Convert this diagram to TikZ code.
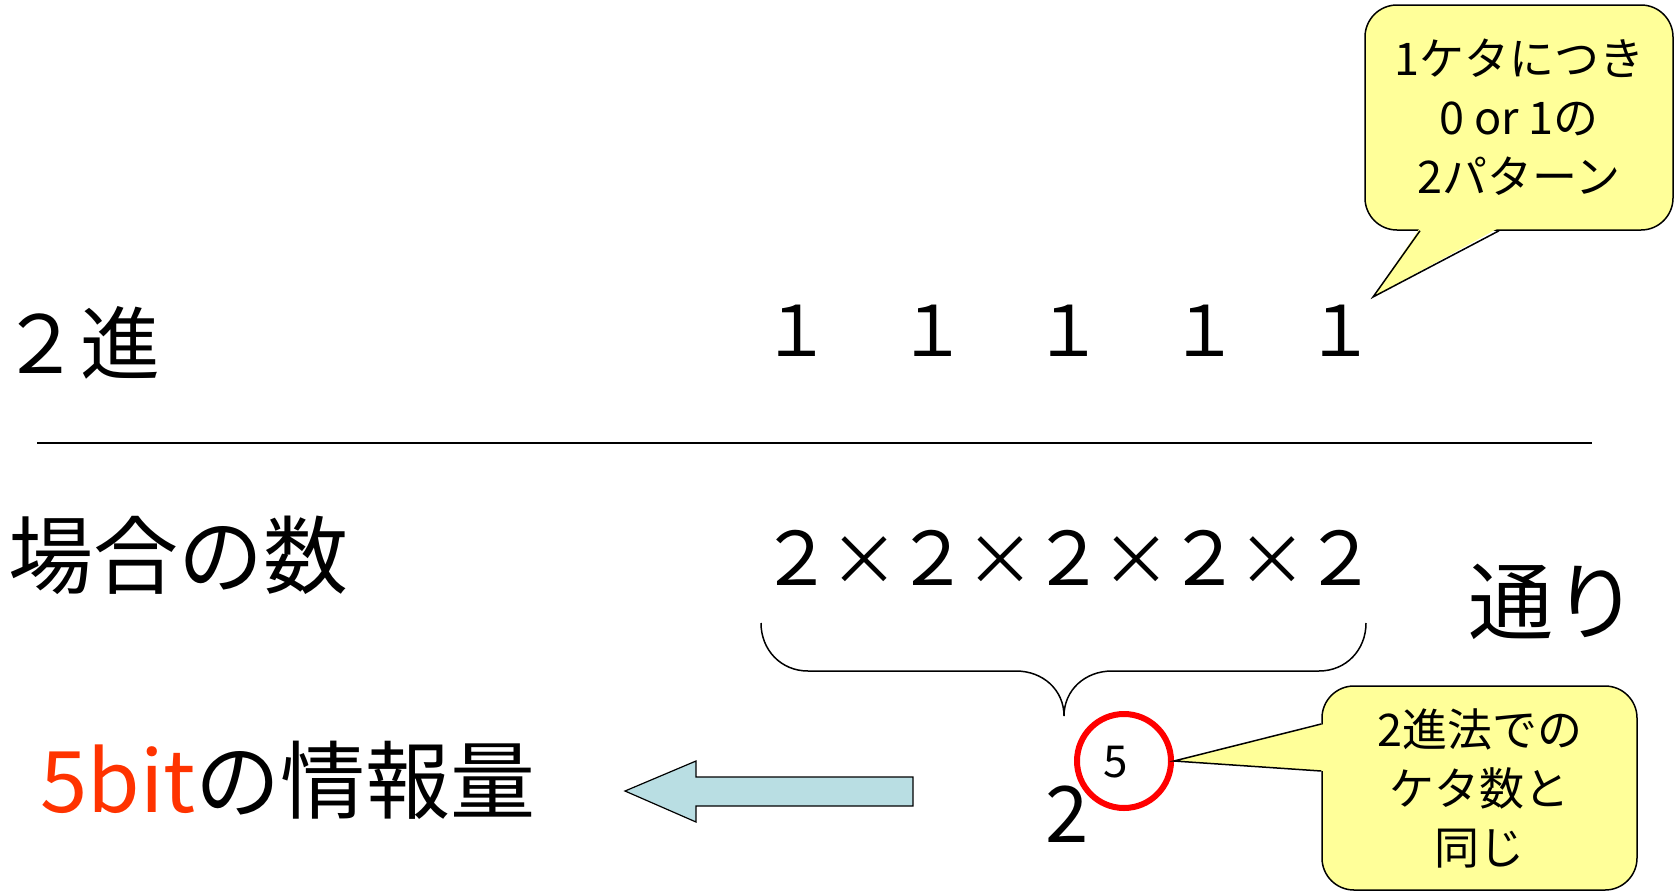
\documentclass[tikz,border=0pt]{standalone}
\usepackage{fontspec}
\setmainfont{Noto Sans CJK JP}
\usetikzlibrary{positioning}
\definecolor{notegelb}{RGB}{255,255,153}
\definecolor{pfeilblau}{RGB}{185,222,227}
\definecolor{bitrot}{RGB}{255,51,0}

\begin{document}
\begin{tikzpicture}[x=1pt,y=-1pt]
 \begin{scope}[line width=1.5pt,
   big/.style={inner sep=0pt,font=\fontsize{85}{96}\selectfont},
   digit/.style={inner sep=0pt,anchor=base,font=\fontsize{70}{80}\selectfont},
   note/.style={draw,fill=notegelb,rounded corners=32pt,align=center,inner sep=0pt,font=\fontsize{45}{59}\selectfont}]
   \useasboundingbox (0,0) rectangle (1675,894);

   % Beschriftung links
   \node[big,anchor=base west,font=\fontsize{80}{96}\selectfont] (zweishin) at (0,373) {２進};
   \node[big,anchor=base west] (baai) at (8,587) {場合の数};
   \node[big,anchor=base west] (bit) at (40,812) {\textcolor{bitrot}{5bit}の情報量};
   \node[big,anchor=base] (toori) at (1553,633) {通り};

   % Trennlinie
   \coordinate (l1) at (37,443);
   \coordinate (l2) at (1592,443);
   \draw (l1) -- (l2);

   % Ziffern
   \foreach \i in {0,...,4} {
     \node[digit] (eins\i) at (796+136*\i,356) {１};
     \node[digit,font=\fontsize{74}{80}\selectfont] (zwei\i) at (796+136*\i,585) {２};
   }
   \foreach \i in {0,...,3}
     \node[digit] (mal\i) at (864+136*\i,585) {×};

   % Klammer
   \draw (761,623) .. controls (761,650) and (781,671) .. (808,671) -- (1016,671)
     .. controls (1043,671) and (1064,690) .. (1064,716)
     .. controls (1064,690) and (1085,671) .. (1112,671) -- (1319,671)
     .. controls (1346,671) and (1366,650) .. (1366,623);

   % 2 hoch 5
   \node[inner sep=0pt,anchor=base,font=\fontsize{78}{80}\selectfont] (basis) at (1067,842) {2};
   \node[inner sep=0pt,anchor=base,font=\fontsize{44}{50}\selectfont] (expo) at (1116,777) {5};
   \node[circle,draw=red,line width=6pt,minimum size=94pt] (ring) at (1124,761) {};

   % Pfeil
   \draw[line width=1.2pt,fill=pfeilblau] (913,777) -- (696,777) -- (696,761) -- (625,791)
     -- (696,822) -- (696,806) -- (913,806) -- cycle;

   % Sprechblasen
   \node[note,minimum width=308pt,minimum height=225pt] (note1) at (1519,117.5)
     {1ケタにつき\\0 or 1の\\2パターン};
   \coordinate (spitze1) at (1373,297);
   \fill[notegelb] ([xshift=-99pt,yshift=3pt]note1.south) -- (spitze1)
     -- ([xshift=-20pt,yshift=3pt]note1.south) -- cycle;
   \draw ([xshift=-99pt]note1.south) -- (spitze1) -- ([xshift=-20pt]note1.south);

   \node[note,minimum width=315pt,minimum height=204pt] (note2) at (1479.5,788)
     {2進法での\\ケタ数と\\同じ};
   \fill[notegelb] ([xshift=3pt,yshift=64pt]note2.west) -- (ring.east)
     -- ([xshift=3pt,yshift=17pt]note2.west) -- cycle;
   \draw ([yshift=64pt]note2.west) -- (ring.east) -- ([yshift=17pt]note2.west);
 \end{scope}
\end{tikzpicture}
\end{document}
